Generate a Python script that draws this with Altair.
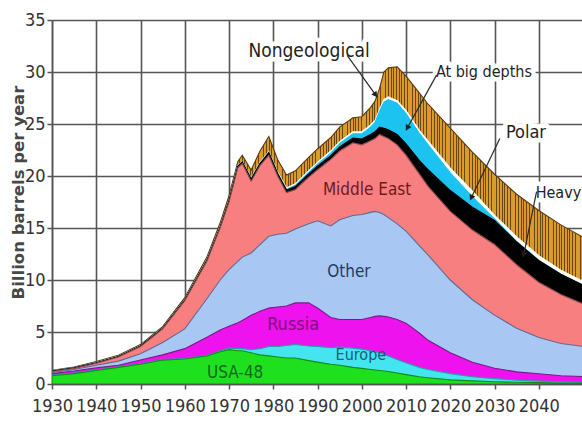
import altair as alt
import numpy as np
import pandas as pd

# ---- production by region, billion barrels per year (layer thickness) ----
years = [1930, 1935, 1940, 1945, 1950, 1955, 1960, 1965, 1968, 1970,
         1972, 1973, 1975, 1977, 1979, 1981, 1983, 1985, 1988, 1990,
         1993, 1995, 1998, 2000, 2002, 2003, 2004, 2005, 2006, 2008,
         2010, 2013, 2015, 2020, 2025, 2030, 2035, 2040, 2045, 2050]

usa48 = [0.8, 1.0, 1.3, 1.6, 1.9, 2.3, 2.4, 2.7, 3.1, 3.3,
         3.2, 3.2, 3.0, 2.8, 2.7, 2.6, 2.5, 2.5, 2.25, 2.1,
         1.9, 1.8, 1.6, 1.5, 1.4, 1.35, 1.3, 1.25, 1.2, 1.05,
         0.9, 0.7, 0.6, 0.4, 0.3, 0.22, 0.17, 0.13, 0.1, 0.08]

europe = [0.05, 0.05, 0.05, 0.05, 0.05, 0.05, 0.05, 0.05, 0.1, 0.15,
          0.2, 0.2, 0.3, 0.6, 0.9, 1.0, 1.2, 1.3, 1.4, 1.5,
          1.6, 1.75, 1.85, 1.85, 1.8, 1.75, 1.7, 1.6, 1.5, 1.3,
          1.15, 0.9, 0.8, 0.6, 0.4, 0.3, 0.2, 0.15, 0.1, 0.08]

russia = [0.15, 0.2, 0.2, 0.15, 0.35, 0.45, 0.95, 1.75, 2.0, 2.1,
          2.5, 2.7, 3.3, 3.6, 3.7, 3.8, 3.8, 4.0, 4.15, 3.7,
          2.9, 2.65, 2.75, 2.85, 3.2, 3.4, 3.55, 3.65, 3.75, 3.85,
          3.8, 3.3, 2.8, 2.0, 1.4, 1.0, 0.8, 0.7, 0.6, 0.55]

other = [0.1, 0.15, 0.25, 0.4, 0.6, 1.2, 1.9, 3.7, 4.8, 5.45,
         5.9, 6.1, 6.0, 6.4, 6.9, 7.0, 7.0, 7.1, 7.6, 8.4,
         8.8, 9.6, 10.0, 10.1, 10.1, 10.1, 9.95, 9.8, 9.55, 9.2,
         8.85, 8.4, 8.2, 7.0, 6.0, 5.1, 4.2, 3.5, 3.1, 2.9]

middle_east = [0.1, 0.1, 0.2, 0.4, 0.7, 1.3, 2.7, 3.6, 5.0, 6.5,
               9.0, 9.0, 6.9, 7.6, 7.8, 5.6, 3.9, 3.8, 4.5, 4.9,
               6.4, 6.6, 7.0, 6.7, 6.9, 7.0, 7.5, 7.5, 7.6, 7.6,
               7.3, 6.9, 6.6, 6.6, 6.7, 6.8, 6.1, 5.3, 4.7, 4.1]

heavy = [0.05, 0.05, 0.05, 0.05, 0.05, 0.05, 0.08, 0.1, 0.1, 0.15,
         0.15, 0.15, 0.2, 0.2, 0.25, 0.25, 0.25, 0.3, 0.3, 0.35,
         0.35, 0.4, 0.45, 0.55, 0.6, 0.65, 0.7, 0.8, 0.85, 1.0,
         1.1, 1.3, 1.6, 2.0, 2.2, 2.3, 2.2, 2.1, 1.95, 1.8]

deepwater = [0, 0, 0, 0, 0, 0, 0, 0, 0, 0,
             0, 0, 0, 0, 0, 0, 0.05, 0.1, 0.15, 0.2,
             0.25, 0.3, 0.4, 0.5, 0.7, 0.9, 1.5, 2.5, 2.9, 3.0,
             2.9, 2.6, 2.4, 1.7, 1.0, 0.15, 0.03, 0, 0, 0]

polar = [0.02, 0.02, 0.02, 0.02, 0.02, 0.02, 0.02, 0.05, 0.05, 0.05,
         0.05, 0.05, 0.08, 0.1, 0.1, 0.12, 0.15, 0.15, 0.15, 0.15,
         0.2, 0.2, 0.2, 0.2, 0.2, 0.2, 0.2, 0.25, 0.25, 0.25,
         0.3, 0.3, 0.35, 0.45, 0.55, 0.35, 0.45, 0.45, 0.4, 0.35]

nongeological = [0.05, 0.05, 0.08, 0.1, 0.12, 0.15, 0.2, 0.25, 0.35, 0.4,
                 0.4, 0.6, 0.8, 1.1, 1.45, 1.2, 1.25, 1.25, 1.3, 1.3,
                 1.3, 1.4, 1.35, 1.45, 1.7, 1.85, 2.0, 2.65, 2.8, 3.25,
                 3.3, 3.6, 3.55, 3.85, 3.75, 3.95, 4.1, 4.35, 4.35, 4.25]

# ---- text annotations (positions in data units) ----
region_text = ["Middle East", "Other", "Russia", "Europe", "USA-48"]
region_year = [2001.2, 1997.1, 1984.5, 1999.8, 1971.4]
region_value = [18.65, 10.8, 5.7, 2.8, 1.05]
region_color = ["#6e1a1e", "#1f3a66", "#84107f", "#1a5a78", "#0f6a1c"]
region_size = [17, 17, 18, 16, 17]

callout_text = ["Nongeological", "At big depths", "Polar", "Heavy"]
callout_year = [1988.1, 2027.6, 2037.1, 2039.3]
callout_value = [32.0, 30.0, 24.1, 18.4]
callout_align = ["center", "center", "center", "left"]
callout_size = [19, 16, 18, 16]
leader_from_year = [1996.7, 2016.9, 2031.2, 2039.5]
leader_from_value = [31.6, 29.7, 23.6, 18.5]
leader_to_year = [2003.45, 2010.0, 2024.5, 2036.5]
leader_to_value = [27.6, 24.4, 17.7, 12.2]

# ---- layout / style ----
W, H = 530, 364
X0, X1 = 1930, 2049.77
Y0, Y1 = 0, 35
NARROW = "Liberation Sans Narrow, Arial Narrow, DejaVu Sans Condensed, sans-serif"
GRID = "#555555"

xs = alt.Scale(domain=[X0, X1], nice=False, zero=False)
ys = alt.Scale(domain=[Y0, Y1], nice=False)

x_axis = alt.Axis(values=list(range(1930, 2050, 10)), format="d", title=None,
                  labelFont=NARROW, labelFontSize=18, labelColor="#333333",
                  labelFlush=False, labelPadding=8, tickSize=5, tickColor=GRID,
                  tickWidth=1.5, domainColor=GRID, domainWidth=1.5,
                  gridColor=GRID, gridWidth=1.6)
y_axis = alt.Axis(values=list(range(0, 36, 5)), title="Billion barrels per year",
                  labelFont=NARROW, labelFontSize=18, labelColor="#333333",
                  labelFlush=False, labelPadding=2, tickSize=5, tickColor=GRID,
                  tickWidth=1.5, domainColor=GRID, domainWidth=1.5,
                  gridColor=GRID, gridWidth=1.6,
                  titleFont="DejaVu Sans", titleFontSize=16.5, titleFontWeight="bold",
                  titleColor="#474747", titleAngle=270, titleX=-34, titleY=172,
                  titleAlign="center", titleBaseline="middle")


def X(field):
    return alt.X(field, scale=xs, axis=x_axis)


def Y(field):
    return alt.Y(field, scale=ys, axis=y_axis, stack=None)


# striped fill for the nongeological band
ORANGE, DARK = "#db9a2c", "#6a4512"
n_stripes = 196
stops = []
for i in range(n_stripes):
    a = i / n_stripes
    b = (i + 0.32) / n_stripes
    c = (i + 1) / n_stripes
    stops += [{"offset": a, "color": DARK}, {"offset": b, "color": DARK},
              {"offset": b, "color": ORANGE}, {"offset": c, "color": ORANGE}]
stripes = {"gradient": "linear", "x1": 0, "y1": 0, "x2": 1, "y2": 0, "stops": stops}

layers_spec = [
    ("USA-48", usa48, "#1fe01f", "#138a13"),
    ("Europe", europe, "#45e5ef", "#2a9aa8"),
    ("Russia", russia, "#ee12ee", "#7a1a86"),
    ("Other", other, "#a9c7f3", "#5e6a94"),
    ("Middle East", middle_east, "#f87f80", "#8a4a50"),
    ("Heavy", heavy, "#000000", "#000000"),
    ("Deepwater", deepwater, "#1cc3f0", "#1cc3f0"),
    ("Polar", polar, "#ffffff", "#ffffff"),
    ("Nongeological", nongeological, stripes, "#5a3a10"),
]

cum = np.cumsum(np.array([s[1] for s in layers_spec], dtype=float), axis=0)

# areas painted from the top of the stack downwards, each from zero to its cumulative top
areas = []
for k in range(len(layers_spec) - 1, -1, -1):
    name, _, fill, stroke = layers_spec[k]
    df = pd.DataFrame({"year": years, "top": cum[k]})
    areas.append(
        alt.Chart(df).mark_area(fill=fill, stroke=stroke, strokeWidth=1.1,
                                interpolate="linear", clip=True)
        .encode(x=X("year:Q"), y=Y("top:Q"))
    )

regions = pd.DataFrame({"text": region_text, "year": region_year,
                        "value": region_value, "color": region_color,
                        "size": region_size})
region_labels = alt.Chart(regions).mark_text(
    font=NARROW, align="center", baseline="middle"
).encode(
    x=X("year:Q"), y=Y("value:Q"),
    text="text:N", color=alt.Color("color:N", scale=None),
    size=alt.Size("size:Q", scale=None),
)

px_per_year = W / (X1 - X0)
px_per_unit = H / (Y1 - Y0)
dxp = (np.array(leader_to_year) - np.array(leader_from_year)) * px_per_year
dyp = -(np.array(leader_to_value) - np.array(leader_from_value)) * px_per_unit
ang = np.degrees(np.arctan2(dxp, -dyp)) % 360
length = np.hypot(dxp, dyp)
back = 3.5  # pull the arrowhead centre back from the tip, px
head_year = np.array(leader_to_year) - dxp / length * back / px_per_year
head_value = np.array(leader_to_value) + dyp / length * back / px_per_unit

callouts = pd.DataFrame({
    "text": callout_text, "year": callout_year, "value": callout_value,
    "align": callout_align, "size": callout_size,
    "x1": leader_from_year, "y1": leader_from_value,
    "x2": leader_to_year, "y2": leader_to_value,
    "hx": head_year, "hy": head_value, "angle": ang,
})

leaders = alt.Chart(callouts).mark_rule(color="#2a2a2a", strokeWidth=1.2).encode(
    x=X("x1:Q"), y=Y("y1:Q"), x2="x2:Q", y2="y2:Q",
)
heads = alt.Chart(callouts).mark_point(
    shape="triangle", filled=True, size=42, color="#1e1e1e", opacity=1
).encode(
    x=X("hx:Q"), y=Y("hy:Q"), angle=alt.Angle("angle:Q", scale=None),
)

halos, texts = [], []
for al in ["center", "left"]:
    base = alt.Chart(callouts[callouts["align"] == al])
    enc = dict(x=X("year:Q"), y=Y("value:Q"), text="text:N",
               size=alt.Size("size:Q", scale=None))
    halos.append(base.mark_text(
        font=NARROW, align=al, baseline="middle",
        stroke="white", strokeWidth=9, strokeJoin="round", fill="white"
    ).encode(**enc))
    texts.append(base.mark_text(
        font=NARROW, align=al, baseline="middle", color="#1e1e1e"
    ).encode(**enc))

chart = alt.layer(
    *areas, region_labels, *halos, leaders, heads, *texts
).properties(
    width=W, height=H,
    autosize=alt.AutoSizeParams(type="none"),
    padding={"left": 52, "top": 20, "right": 0, "bottom": 38},
    background="white",
).configure_view(strokeWidth=0)

chart.save("out.html", embed_options={"renderer": "svg", "actions": False})
